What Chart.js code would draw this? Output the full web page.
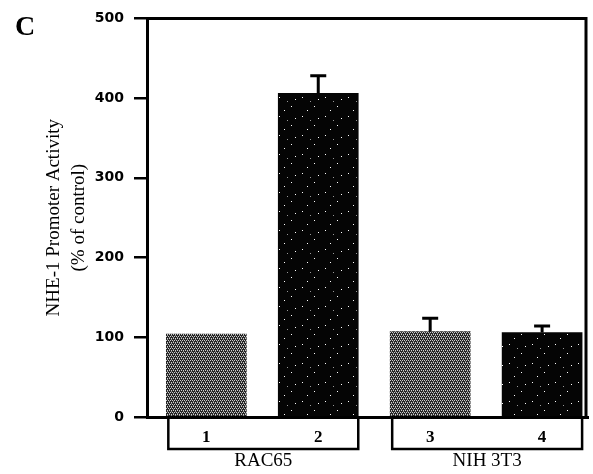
<!DOCTYPE html>
<html lang="en">
<head>
  <meta charset="UTF-8">
  <title>NHE-1 Promoter Activity</title>
  <script src="https://cdn.jsdelivr.net/npm/chart.js"></script>
  <style>
    body {
      margin: 0;
      background: #fff;
    }
    #box {
      width: 593px;
      height: 474px;
    }
  </style>
</head>
<body>
  <div id="box">
    <canvas id="barChart"></canvas>
  </div>

  <script>
    // data
    const barLabels = ['1', '2', '3', '4'];
    const activity = [104, 406, 107, 106];
    const errUp = [0, 22, 17, 8];
    const groupLabels = ['RAC65', 'NIH 3T3'];
    const groupBars = [[0, 1], [2, 3]];
    const yTicks = [0, 100, 200, 300, 400, 500];
    const barKind = ['grey', 'black', 'grey', 'black'];

    const barPos = barLabels.map((l, i) => i + 1);
    const BAR_W = 80;

    function makePattern(kind) {
      const c = document.createElement('canvas');
      const g = c.getContext('2d');
      if (kind === 'grey') {
        // fine cross-hatch stipple
        c.width = 4; c.height = 4;
        g.fillStyle = '#262626';
        g.fillRect(0, 0, 4, 4);
        g.fillStyle = '#cfcfcf';
        g.fillRect(0, 0, 1, 1);
        g.fillRect(2, 0, 1, 1);
        g.fillRect(1, 2, 1, 1);
        g.fillRect(3, 2, 1, 1);
        g.fillStyle = '#8a8a8a';
        g.fillRect(1, 1, 1, 1);
        g.fillRect(3, 3, 1, 1);
      } else {
        // black with sparse white specks
        c.width = 23; c.height = 19;
        g.fillStyle = '#050505';
        g.fillRect(0, 0, 23, 19);
        g.fillStyle = '#ffffff';
        g.fillRect(3, 2, 1, 1);
        g.fillRect(15, 11, 1, 1);
        g.fillRect(19, 4, 1, 1);
        g.fillRect(8, 15, 1, 1);
        g.fillStyle = '#999';
        g.fillRect(11, 6, 1, 1);
      }
      return g.createPattern(c, 'repeat');
    }

    const ctx = document.getElementById('barChart').getContext('2d');
    const fills = barKind.map(makePattern);

    const extras = {
      id: 'extras',
      afterDatasetsDraw(chart) {
        const g = chart.ctx;
        const xs = chart.scales.x, ys = chart.scales.y;
        g.save();
        g.strokeStyle = '#000';
        g.lineWidth = 3;
        // error caps
        activity.forEach((v, i) => {
          if (!errUp[i]) return;
          const x = xs.getPixelForValue(barPos[i]);
          const y0 = ys.getPixelForValue(v);
          const y1 = ys.getPixelForValue(v + errUp[i]);
          g.beginPath();
          g.moveTo(x, y0);
          g.lineTo(x, y1);
          g.moveTo(x - 8, y1);
          g.lineTo(x + 8, y1);
          g.stroke();
        });
        g.restore();
      },
      afterDraw(chart) {
        const g = chart.ctx;
        const a = chart.chartArea;
        const xs = chart.scales.x;
        g.save();
        g.strokeStyle = '#000';
        g.lineWidth = 3;
        // top and right of frame
        g.beginPath();
        g.moveTo(a.left, a.top);
        g.lineTo(a.right - 2, a.top);
        g.lineTo(a.right - 2, a.bottom);
        g.stroke();

        // brackets under the bars
        g.lineWidth = 2.5;
        g.fillStyle = '#000';
        g.textAlign = 'center';
        g.textBaseline = 'middle';
        g.font = '19px "Liberation Serif", serif';
        groupBars.forEach((idx, k) => {
          const l = xs.getPixelForValue(barPos[idx[0]]) - BAR_W / 2 + 2;
          const r = xs.getPixelForValue(barPos[idx[idx.length - 1]]) + BAR_W / 2;
          const yb = a.bottom + 32;
          g.beginPath();
          g.moveTo(l, a.bottom);
          g.lineTo(l, yb);
          g.lineTo(r, yb);
          g.lineTo(r, a.bottom);
          g.stroke();
          g.fillText(groupLabels[k], (l + r) / 2, yb + 12);
        });

        g.font = 'bold 28px "Liberation Serif", serif';
        g.fillText('C', 25, 28);
        g.restore();
      }
    };

    new Chart(ctx, {
      type: 'bar',
      data: {
        datasets: [{
          data: barPos.map((x, i) => ({ x: x, y: activity[i] })),
          backgroundColor: fills,
          borderWidth: 0,
          barThickness: BAR_W
        }]
      },
      options: {
        responsive: true,
        maintainAspectRatio: false,
        animation: false,
        layout: { padding: { top: 17, right: 5, left: 0, bottom: 0 } },
        plugins: {
          legend: { display: false },
          tooltip: { enabled: false }
        },
        scales: {
          x: {
            type: 'linear',
            offset: false,
            min: 0.47,
            max: 4.41,
            grid: { display: false, drawTicks: false },
            border: { display: true, color: '#000', width: 3 },
            afterBuildTicks: (s) => { s.ticks = barPos.map(v => ({ value: v })); },
            afterFit: (s) => { s.height = 57; },
            ticks: {
              autoSkip: false,
              maxRotation: 0,
              padding: 10,
              color: '#000',
              font: { family: '"Liberation Serif", serif', size: 17, weight: 'bold' },
              callback: (v, i) => barLabels[i]
            }
          },
          y: {
            min: 0,
            max: 500,
            afterBuildTicks: (s) => { s.ticks = yTicks.map(v => ({ value: v })); },
            afterFit: (s) => { s.width = 147; },
            grid: {
              drawOnChartArea: false,
              drawTicks: true,
              tickLength: 13,
              color: '#000',
              lineWidth: 2.5
            },
            border: { display: true, color: '#000', width: 3 },
            ticks: {
              padding: 10,
              color: '#000',
              font: { family: '"DejaVu Sans", sans-serif', size: 14, weight: 'bold' }
            },
            title: {
              display: true,
              text: ['NHE-1 Promoter Activity', '(% of control)'],
              color: '#000',
              padding: { top: 42 },
              font: { family: '"Liberation Serif", serif', size: 19, lineHeight: 1.3 }
            }
          }
        }
      },
      plugins: [extras]
    });
  </script>
</body>
</html>
